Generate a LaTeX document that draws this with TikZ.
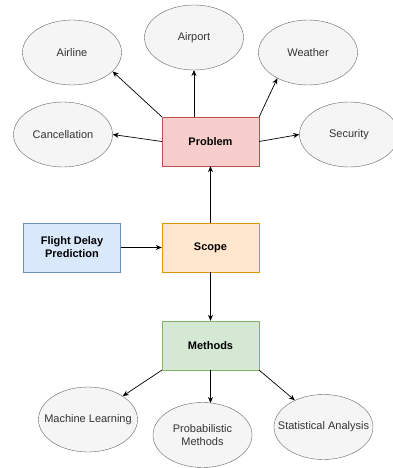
\documentclass[tikz,border=0pt]{standalone}
\usepackage{fontspec}
\setmainfont{Liberation Sans}
\usetikzlibrary{shapes.geometric,arrows.meta}
\definecolor{ellfill}{HTML}{F5F5F5}
\definecolor{elldraw}{HTML}{666666}
\definecolor{elltext}{HTML}{333333}
\definecolor{redfill}{HTML}{F8CECC}
\definecolor{reddraw}{HTML}{B85450}
\definecolor{orfill}{HTML}{FFE6CC}
\definecolor{ordraw}{HTML}{D79B00}
\definecolor{grfill}{HTML}{D5E8D4}
\definecolor{grdraw}{HTML}{82B366}
\definecolor{blfill}{HTML}{DAE8FC}
\definecolor{bldraw}{HTML}{6C8EBF}
\tikzset{
  topic/.style={ellipse, draw=elldraw, fill=ellfill, text=elltext, minimum width=99pt, minimum height=65pt, inner sep=0pt, align=center, font=\fontsize{11}{13}\selectfont},
  box/.style={rectangle, minimum width=97pt, minimum height=49pt, inner sep=0pt, align=center, font=\fontsize{11}{13}\selectfont\bfseries},
  conn/.style={draw=black, line width=0.7pt, -{Stealth[length=6pt,width=5pt]}}
}
\begin{document}
\begin{tikzpicture}[x=1pt,y=-1pt]
\useasboundingbox (0,0) rectangle (392,468);
\node[topic] (airline) at (72,52.5) {Airline};
\node[topic] (airport) at (194,37.5) {Airport};
\node[topic] (weather) at (308,52.5) {Weather};
\node[topic] (cancel) at (63,134.5) {Cancellation};
\node[topic] (security) at (349,134.5) {Security};
\node[box, draw=reddraw, fill=redfill] (problem) at (210.5,141.5) {Problem};
\node[box, draw=bldraw, fill=blfill] (flight) at (72,247.5) {Flight Delay\\Prediction};
\node[box, draw=ordraw, fill=orfill] (scope) at (210.5,247.5) {Scope};
\node[box, draw=grdraw, fill=grfill] (methods) at (210.5,345.5) {Methods};
\node[topic] (ml) at (88,419.5) {\makebox[0pt]{Machine Learning}};
\node[topic] (probm) at (202.5,435) {Probabilistic\\Methods};
\node[topic] (stat) at (323.5,427) {\makebox[0pt]{Statistical Analysis}};
\coordinate (aptop) at (194,117);
\coordinate (apbot) at (194,70);
\coordinate (pmtop) at (210.5,403);
\draw[conn] (problem.north west) -- (airline.335);
\draw[conn] (aptop) -- (apbot);
\draw[conn] (problem.north east) -- (weather.220);
\draw[conn] (problem.west) -- (cancel.east);
\draw[conn] (problem.east) -- (security.west);
\draw[conn] (scope.north) -- (problem.south);
\draw[conn] (flight.east) -- (scope.west);
\draw[conn] (scope.south) -- (methods.north);
\draw[conn] (methods.south west) -- (ml.34);
\draw[conn] (methods.south) -- (pmtop);
\draw[conn] (methods.south east) -- (stat.137);
\end{tikzpicture}
\end{document}
